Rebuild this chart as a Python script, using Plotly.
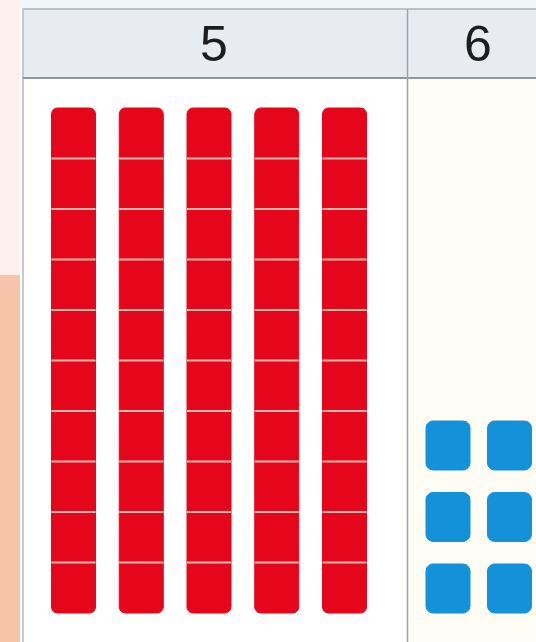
import numpy as np
import plotly.graph_objects as go

# ---- data ----
place_labels = ["5", "6"]      # header digits (tens column, ones column)
tens_rods = 5                  # number of ten-rods
units_per_rod = 10             # cubes in one rod
ones_cubes = 6                 # number of single cubes

# ---- layout constants (pixel-like canvas coordinates) ----
W, H = 536, 642
tbl_left, tbl_top, hdr_bottom, divider_x, tbl_bottom = 23, 9, 78, 407.5, 640
label_x = [214, 478]
label_y = 44

RED = "#e5061b"
BLUE = "#1391d9"


def rrect(x0, y0, x1, y1, r, n=8):
    pts = []
    corners = [(x1 - r, y0 + r, -90, 0), (x1 - r, y1 - r, 0, 90),
               (x0 + r, y1 - r, 90, 180), (x0 + r, y0 + r, 180, 270)]
    for cx, cy, a0, a1 in corners:
        for a in np.linspace(np.radians(a0), np.radians(a1), n):
            pts.append((cx + r * np.cos(a), cy + r * np.sin(a)))
    pts.append(pts[0])
    xs = [p[0] for p in pts]
    ys = [p[1] for p in pts]
    return xs, ys


fig = go.Figure()

# ---- tens rods ----
rod_x0, rod_pitch, rod_w = 51.5, 67.75, 44
rod_top, unit_h = 108, 50.5
rx, ry, sx, sy = [], [], [], []
for i in range(tens_rods):
    x0 = rod_x0 + i * rod_pitch
    x1 = x0 + rod_w
    y1 = rod_top + units_per_rod * unit_h
    xs, ys = rrect(x0, rod_top, x1, y1, 6)
    rx += xs + [None]
    ry += ys + [None]
    for k in range(1, units_per_rod):
        yy = rod_top + k * unit_h
        sx += [x0, x1, None]
        sy += [yy, yy, None]

fig.add_trace(go.Scatter(x=rx, y=ry, mode="lines", fill="toself",
                         fillcolor=RED, line=dict(color=RED, width=1),
                         hoverinfo="skip", showlegend=False))
fig.add_trace(go.Scatter(x=sx, y=sy, mode="lines",
                         line=dict(color="#f6b9ad", width=2),
                         hoverinfo="skip", showlegend=False))

# ---- ones cubes (2 columns, filled from the bottom) ----
cube_x0, cube_pitch_x, cube_w = 426, 61.5, 44
cube_bottom, cube_pitch_y, cube_h = 613, 71.5, 49
cols = 2
bx, by = [], []
for j in range(ones_cubes):
    r = j // cols
    c = j % cols
    x0 = cube_x0 + c * cube_pitch_x
    yb = cube_bottom - r * cube_pitch_y
    xs, ys = rrect(x0, yb - cube_h, x0 + cube_w, yb, 7)
    bx += xs + [None]
    by += ys + [None]
fig.add_trace(go.Scatter(x=bx, y=by, mode="lines", fill="toself",
                         fillcolor=BLUE, line=dict(color=BLUE, width=1),
                         hoverinfo="skip", showlegend=False))

# ---- background / table ----
shapes = [
    dict(type="rect", x0=0, x1=W, y0=0, y1=tbl_top, fillcolor="#f3f6f9", line_width=0, layer="below"),
    dict(type="rect", x0=0, x1=20, y0=0, y1=H, fillcolor="#fdf0ea", line_width=0, layer="below"),
    dict(type="rect", x0=0, x1=20, y0=275, y1=H, fillcolor="#f6c5a9", line_width=0, layer="below"),
    dict(type="rect", x0=divider_x, x1=W, y0=hdr_bottom, y1=H, fillcolor="#fffcf4", line_width=0, layer="below"),
    dict(type="rect", x0=tbl_left, x1=W + 5, y0=tbl_top, y1=hdr_bottom, fillcolor="#e8ecf0",
         line=dict(color="#a9b3bd", width=1.5), layer="below"),
    dict(type="line", x0=tbl_left, x1=tbl_left, y0=tbl_top, y1=H, line=dict(color="#c3c9cf", width=2), layer="below"),
    dict(type="line", x0=tbl_left, x1=W, y0=hdr_bottom, y1=hdr_bottom, line=dict(color="#7f8a95", width=1.5), layer="below"),
    dict(type="line", x0=divider_x, x1=divider_x, y0=tbl_top, y1=H, line=dict(color="#9aa5b0", width=1.5), layer="below"),
]

annotations = [
    dict(x=lx, y=label_y, text=t, showarrow=False, xanchor="center", yanchor="middle",
         font=dict(family="Liberation Sans Narrow, Liberation Sans, Arial", size=50, color="#1e1e1e"))
    for lx, t in zip(label_x, place_labels)
]

fig.update_layout(
    width=W, height=H, margin=dict(l=0, r=0, t=0, b=0),
    paper_bgcolor="white", plot_bgcolor="white",
    shapes=shapes, annotations=annotations, showlegend=False,
    xaxis=dict(range=[0, W], visible=False, fixedrange=True),
    yaxis=dict(range=[H, 0], visible=False, fixedrange=True),
)

fig.write_html("out.html", config={"displayModeBar": False},
               post_script="document.body.style.margin='0';document.body.style.overflow='hidden';")
